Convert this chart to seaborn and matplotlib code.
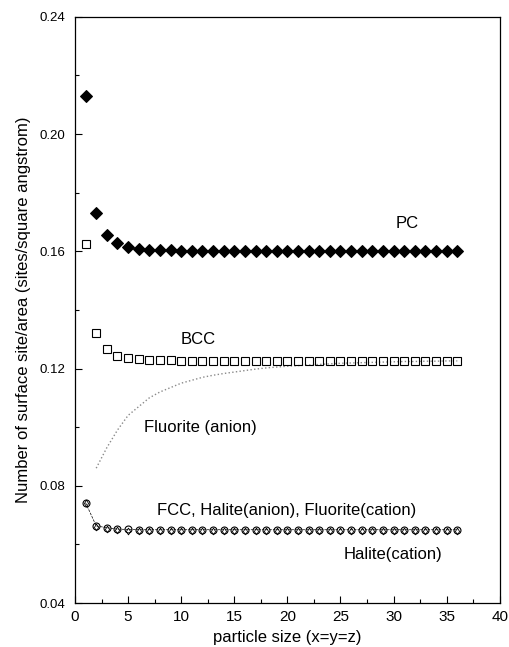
import numpy as np
import pandas as pd
import matplotlib
matplotlib.use('Agg')
import matplotlib.pyplot as plt
from matplotlib.ticker import MultipleLocator, FormatStrFormatter
import seaborn as sns

# values
size = list(range(1, 37))
pc = [0.213, 0.173, 0.1655, 0.1628, 0.1615, 0.1609, 0.1606, 0.1604, 0.1603, 0.1602,
      0.1601, 0.1601, 0.1600, 0.1600, 0.1600, 0.1600, 0.1600, 0.1600, 0.1600, 0.1600,
      0.1600, 0.1600, 0.1600, 0.1600, 0.1600, 0.1600, 0.1600, 0.1600, 0.1600, 0.1600,
      0.1600, 0.1600, 0.1600, 0.1600, 0.1600, 0.1600]
bcc = [0.1624, 0.132, 0.1265, 0.1244, 0.1236, 0.1232, 0.1230, 0.1229, 0.1228, 0.1227,
       0.1227, 0.1226, 0.1226, 0.1226, 0.1226, 0.1226, 0.1225, 0.1225, 0.1225, 0.1225,
       0.1225, 0.1225, 0.1225, 0.1225, 0.1225, 0.1225, 0.1225, 0.1225, 0.1225, 0.1225,
       0.1225, 0.1225, 0.1225, 0.1225, 0.1225, 0.1225]
fluor_size = list(range(2, 37))
fluorite_anion = [0.086, 0.093, 0.099, 0.104, 0.107, 0.110, 0.112, 0.1135, 0.115, 0.116,
                  0.117, 0.1177, 0.1183, 0.1188, 0.1193, 0.1198, 0.1202, 0.1205, 0.1208, 0.121,
                  0.1212, 0.1214, 0.1216, 0.1218, 0.1219, 0.122, 0.1221, 0.1222, 0.1223, 0.1224,
                  0.1224, 0.1225, 0.1225, 0.1226, 0.1226]
fcc = [0.0742, 0.0663, 0.0657, 0.0652, 0.0651, 0.0650, 0.0650, 0.0650, 0.0650, 0.0650,
       0.0650, 0.0650, 0.0650, 0.0650, 0.0650, 0.0650, 0.0650, 0.0650, 0.0650, 0.0650,
       0.0650, 0.0650, 0.0650, 0.0650, 0.0650, 0.0650, 0.0650, 0.0650, 0.0650, 0.0650,
       0.0650, 0.0650, 0.0650, 0.0650, 0.0650, 0.0650]
halite_cation = [0.0742, 0.0660, 0.0652, 0.0648, 0.0646, 0.0645, 0.0645, 0.0645, 0.0645, 0.0645,
                 0.0645, 0.0645, 0.0645, 0.0645, 0.0645, 0.0645, 0.0645, 0.0645, 0.0645, 0.0645,
                 0.0645, 0.0645, 0.0645, 0.0645, 0.0645, 0.0645, 0.0645, 0.0645, 0.0645, 0.0645,
                 0.0645, 0.0645, 0.0645, 0.0645, 0.0645, 0.0645]

sns.set_style('ticks')
plt.rcParams['font.family'] = ['Liberation Sans', 'DejaVu Sans']
plt.rcParams.update({'text.color': 'black', 'axes.labelcolor': 'black',
                     'xtick.color': 'black', 'ytick.color': 'black'})

fig = plt.figure(figsize=(5.1, 6.47), dpi=100)
ax = fig.add_axes([0.147, 0.068, 0.833, 0.906])

# fluorite anion - faint dotted curve
sns.lineplot(x=fluor_size, y=fluorite_anion, ax=ax, color='#8a8a8a', linestyle=':', linewidth=1.0)

# FCC / halite - open circles with thin dashed line, small diamonds on top
sns.lineplot(x=size, y=fcc, ax=ax, color='black', linestyle='--', linewidth=0.5,
             marker='o', markersize=5, markerfacecolor='none', markeredgecolor='black',
             markeredgewidth=0.8)
sns.lineplot(x=size, y=halite_cation, ax=ax, color='black', linestyle='', marker='d',
             markersize=3.5, markerfacecolor='none', markeredgecolor='black', markeredgewidth=0.6)

# BCC - open squares
sns.lineplot(x=size, y=bcc, ax=ax, color='black', linestyle='', marker='s', markersize=5.5,
             markerfacecolor='none', markeredgecolor='black', markeredgewidth=0.8)

# PC - filled diamonds
sns.lineplot(x=size, y=pc, ax=ax, color='black', linestyle='', marker='D', markersize=6.5,
             markerfacecolor='black', markeredgecolor='black')

ax.set_xlim(0, 40)
ax.set_ylim(0.04, 0.24)
ax.xaxis.set_major_locator(MultipleLocator(5))
ax.xaxis.set_minor_locator(MultipleLocator(2.5))
ax.yaxis.set_major_locator(MultipleLocator(0.04))
ax.yaxis.set_minor_locator(MultipleLocator(0.02))
ax.yaxis.set_major_formatter(FormatStrFormatter('%.2f'))
ax.tick_params(which='both', direction='in', top=False, right=False, width=0.8)
ax.tick_params(which='major', length=5)
ax.tick_params(which='minor', length=3)
ax.tick_params(axis='x', labelsize=11, pad=5)
ax.tick_params(axis='y', labelsize=9.5, pad=7)
for s in ax.spines.values():
    s.set_visible(True)
    s.set_linewidth(0.9)
    s.set_color('black')

ax.set_xlabel('particle size (x=y=z)', fontsize=12)
ax.set_ylabel('Number of surface site/area (sites/square angstrom)', fontsize=12, labelpad=6)

ax.text(31.3, 0.1696, 'PC', fontsize=12, ha='center', va='center')
ax.text(11.6, 0.130, 'BCC', fontsize=12, ha='center', va='center')
ax.text(11.8, 0.100, 'Fluorite (anion)', fontsize=12, ha='center', va='center')
ax.text(7.7, 0.0714, 'FCC, Halite(anion), Fluorite(cation)', fontsize=12, ha='left', va='center')
ax.text(29.9, 0.0567, 'Halite(cation)', fontsize=12, ha='center', va='center')

fig.savefig('out.png', dpi=100)
